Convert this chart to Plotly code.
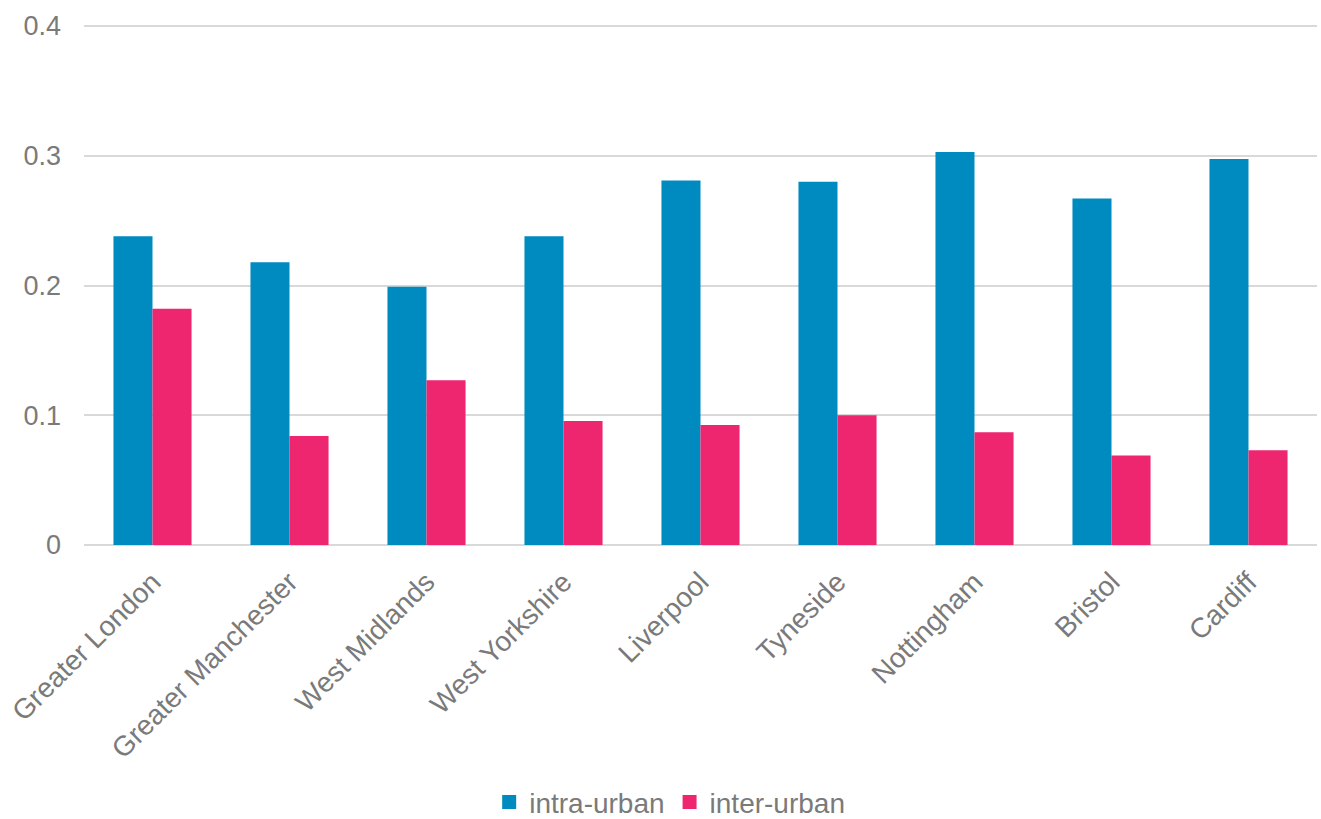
import plotly.graph_objects as go

regions = ["Greater London", "Greater Manchester", "West Midlands", "West Yorkshire",
           "Liverpool", "Tyneside", "Nottingham", "Bristol", "Cardiff"]
intra_urban = [0.238, 0.218, 0.199, 0.238, 0.281, 0.280, 0.303, 0.267, 0.2975]
inter_urban = [0.182, 0.084, 0.127, 0.0955, 0.0925, 0.100, 0.087, 0.069, 0.073]
y_ticks = [0, 0.1, 0.2, 0.3, 0.4]
y_tick_labels = ["0", "0.1", "0.2", "0.3", "0.4"]

series = [("intra-urban", intra_urban, "#008bc0"),
          ("inter-urban", inter_urban, "#ee2670")]

text_grey = "#7a7a7a"
grid_grey = "#d9d9d9"

fig = go.Figure()
for name, values, colour in series:
    fig.add_trace(go.Bar(x=regions, y=values, name=name, showlegend=False,
                         marker=dict(color=colour, line=dict(width=0))))
# square legend keys
for name, values, colour in series:
    fig.add_trace(go.Scatter(x=[None], y=[None], mode="markers", name=name,
                             marker=dict(symbol="square", size=14, color=colour)))

fig.update_layout(
    width=1321, height=819,
    margin=dict(l=84, r=4, t=25, b=274, autoexpand=False),
    paper_bgcolor="white", plot_bgcolor="white",
    barmode="group", bargap=0.43, bargroupgap=0,
    font=dict(family="Liberation Sans, Arial, sans-serif", color=text_grey, size=27),
    legend=dict(orientation="h", x=0.475, xanchor="center", y=-0.495, yanchor="middle",
                font=dict(size=28, color=text_grey), itemwidth=30,
                itemsizing="trace"),
    showlegend=True,
)
fig.update_yaxes(range=[0, 0.4008], tickvals=y_ticks, ticktext=y_tick_labels,
                 showgrid=True, gridcolor=grid_grey, gridwidth=2,
                 zeroline=True, zerolinecolor=grid_grey, zerolinewidth=2,
                 showline=False, ticks="", ticklabelstandoff=22, automargin=False,
                 tickfont=dict(size=27, color=text_grey))
fig.update_xaxes(tickangle=-45, showgrid=False, showline=False, ticks="",
                 ticklabelstandoff=14, automargin=False,
                 tickfont=dict(size=28, color=text_grey))

fig.write_html("out.html")
